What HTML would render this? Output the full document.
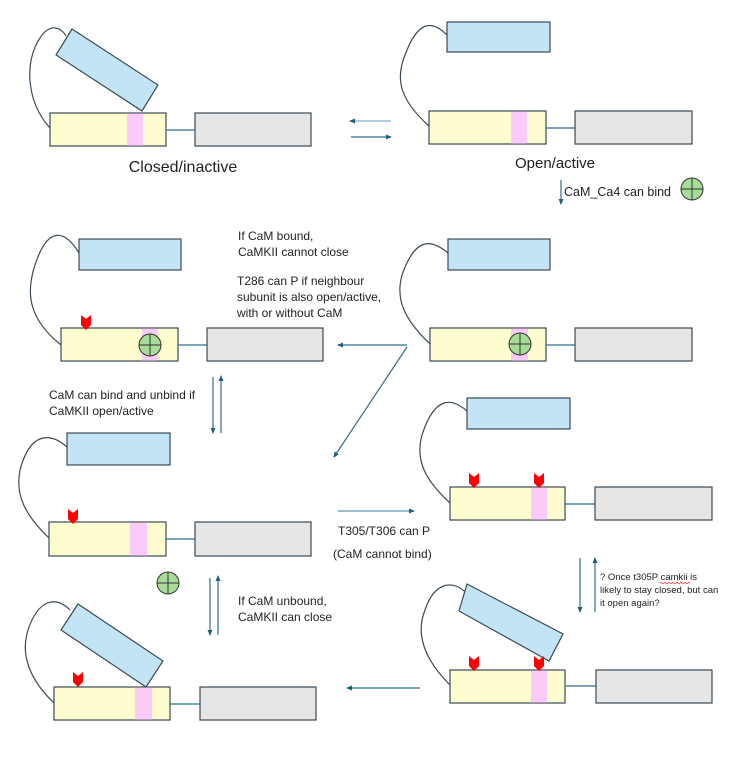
<!DOCTYPE html>
<html><head><meta charset="utf-8"><style>
html,body{margin:0;padding:0;background:#fff;}
svg{display:block;}
text{font-family:"Liberation Sans",sans-serif;fill:#222;}
</style></head><body>
<svg width="738" height="761" viewBox="0 0 738 761" xmlns="http://www.w3.org/2000/svg">
<defs>
<marker id="ah" markerWidth="6" markerHeight="6" refX="5" refY="3" orient="auto" markerUnits="userSpaceOnUse">
<path d="M0,0.5 L6,3 L0,5.5 Z" fill="#1f5f80"/></marker>
<g id="cam"><circle r="11" fill="#a9dc98" stroke="#333" stroke-width="1"/><line x1="-11" y1="0" x2="11" y2="0" stroke="#333"/><line x1="0" y1="-11" x2="0" y2="11" stroke="#333"/></g>
<polygon id="mk" points="-5,-8 0,-4 5,-8 5,2 0,7 -5,2" fill="#f00"/>
</defs>
<g stroke="#3b4a55" stroke-width="1.2">
<path d="M50,128 C25,100 25,60 40,38 C50,22 62,28 66,36" fill="none"/>
<polygon points="72,29 158,85 142,111 56,55" fill="#c3e4f4"/>
<rect x="50" y="113" width="116" height="33" fill="#fefdd0"/>
<rect x="127" y="113.6" width="16" height="32" fill="#fccaf8" stroke="none"/>
<line x1="166" y1="130" x2="195" y2="130" stroke="#2e6d8c"/>
<rect x="195" y="113" width="116" height="33" fill="#e6e6e6"/>
<path d="M430,127 C400,100 395,80 405,55 C418,20 432,20 447,35" fill="none"/>
<rect x="447" y="22" width="103" height="30" fill="#c3e4f4"/>
<rect x="429" y="111" width="117" height="33" fill="#fefdd0"/>
<rect x="511" y="111.6" width="16" height="32" fill="#fccaf8" stroke="none"/>
<line x1="546" y1="128" x2="575" y2="128" stroke="#2e6d8c"/>
<rect x="575" y="111" width="117" height="33" fill="#e6e6e6"/>
<path d="M61,345 C30,320 25,295 35,265 C48,225 65,230 79,253" fill="none"/>
<rect x="79" y="239" width="102" height="31" fill="#c3e4f4"/>
<rect x="61" y="328" width="117" height="33" fill="#fefdd0"/>
<rect x="142" y="328.6" width="16" height="32" fill="#fccaf8" stroke="none"/>
<line x1="178" y1="345" x2="207" y2="345" stroke="#2e6d8c"/>
<rect x="207" y="328" width="116" height="33" fill="#e6e6e6"/>
<path d="M430,344 C405,320 395,300 402,275 C415,238 430,238 448,253" fill="none"/>
<rect x="448" y="239" width="102" height="31" fill="#c3e4f4"/>
<rect x="430" y="328" width="116" height="33" fill="#fefdd0"/>
<rect x="511" y="328.6" width="17" height="32" fill="#fccaf8" stroke="none"/>
<line x1="546" y1="345" x2="575" y2="345" stroke="#2e6d8c"/>
<rect x="575" y="328" width="117" height="33" fill="#e6e6e6"/>
<path d="M49,538 C25,515 15,495 20,470 C30,432 50,432 67,447" fill="none"/>
<rect x="67" y="433" width="103" height="32" fill="#c3e4f4"/>
<rect x="49" y="522" width="117" height="34" fill="#fefdd0"/>
<rect x="130" y="522.6" width="17" height="33" fill="#fccaf8" stroke="none"/>
<line x1="166" y1="539" x2="195" y2="539" stroke="#2e6d8c"/>
<rect x="195" y="522" width="116" height="34" fill="#e6e6e6"/>
<path d="M450,503 C425,480 415,460 422,435 C435,395 452,398 467,411" fill="none"/>
<rect x="467" y="398" width="103" height="31" fill="#c3e4f4"/>
<rect x="450" y="487" width="115" height="33" fill="#fefdd0"/>
<rect x="531" y="487.6" width="16" height="32" fill="#fccaf8" stroke="none"/>
<line x1="565" y1="504" x2="595" y2="504" stroke="#2e6d8c"/>
<rect x="595" y="487" width="117" height="33" fill="#e6e6e6"/>
<path d="M54,703 C30,680 20,655 28,630 C38,600 55,595 70,610" fill="none"/>
<polygon points="78,604 163,661 146,687 61,630" fill="#c3e4f4"/>
<rect x="54" y="687" width="116" height="33" fill="#fefdd0"/>
<rect x="135" y="687.6" width="17" height="32" fill="#fccaf8" stroke="none"/>
<line x1="170" y1="704" x2="200" y2="704" stroke="#2e6d8c"/>
<rect x="200" y="687" width="116" height="33" fill="#e6e6e6"/>
<path d="M450,685 C425,660 415,635 425,610 C435,580 455,580 467,594" fill="none"/>
<polygon points="467,584 563,634 549,661 459,611" fill="#c3e4f4"/>
<rect x="450" y="670" width="115" height="33" fill="#fefdd0"/>
<rect x="531" y="670.6" width="16" height="32" fill="#fccaf8" stroke="none"/>
<line x1="565" y1="686" x2="596" y2="686" stroke="#2e6d8c"/>
<rect x="596" y="670" width="116" height="33" fill="#e6e6e6"/>
</g>
<use href="#cam" x="692" y="189"/>
<use href="#cam" x="150" y="345"/>
<use href="#cam" x="520" y="344"/>
<use href="#cam" x="168" y="583"/>
<use href="#mk" x="86" y="323"/>
<use href="#mk" x="73" y="517"/>
<use href="#mk" x="474" y="481"/>
<use href="#mk" x="539" y="481"/>
<use href="#mk" x="78" y="680"/>
<use href="#mk" x="474" y="664"/>
<use href="#mk" x="539" y="664"/>
<g stroke="#2e6d8c" stroke-width="1.2" fill="none" marker-end="url(#ah)">
<line x1="391" y1="121" x2="350" y2="121" stroke="#7fb0c8"/>
<line x1="351" y1="137" x2="391" y2="137"/>
<line x1="561" y1="180" x2="561" y2="204"/>
<line x1="407" y1="345" x2="338" y2="345"/>
<line x1="407" y1="347" x2="334" y2="457"/>
<line x1="213" y1="377" x2="213" y2="433"/>
<line x1="221" y1="433" x2="221" y2="376"/>
<line x1="338" y1="511" x2="414" y2="511" stroke="#5f98b4"/>
<line x1="580" y1="558" x2="580" y2="612"/>
<line x1="595" y1="612" x2="595" y2="558"/>
<line x1="210" y1="578" x2="210" y2="635"/>
<line x1="218" y1="635" x2="218" y2="576"/>
<line x1="420" y1="688" x2="347" y2="688"/>
</g>
<text x="183" y="172" font-size="16" text-anchor="middle">Closed/inactive</text>
<text x="555" y="168" font-size="15" text-anchor="middle">Open/active</text>
<text x="564" y="196" font-size="12.5">CaM_Ca4 can bind</text>
<text font-size="12"><tspan x="238" y="240">If CaM bound,</tspan><tspan x="238" y="256">CaMKII cannot close</tspan>
<tspan x="237" y="285">T286 can P if neighbour</tspan><tspan x="237" y="301">subunit is also open/active,</tspan><tspan x="237" y="317">with or without CaM</tspan></text>
<text font-size="12"><tspan x="49" y="399">CaM can bind and unbind if</tspan><tspan x="49" y="415">CaMKII open/active</tspan></text>
<text x="338" y="535" font-size="12">T305/T306 can P</text>
<text x="333" y="558" font-size="12">(CaM cannot bind)</text>
<text font-size="12"><tspan x="238" y="605">If CaM unbound,</tspan><tspan x="238" y="621">CaMKII can close</tspan></text>
<text font-size="9.5"><tspan x="600" y="580">? Once t305P camkii is</tspan><tspan x="600" y="593">likely to stay closed, but can</tspan><tspan x="600" y="606">it open again?</tspan></text>
<path d="M660,583 q1,-1.5 2,0 t2,0 t2,0 t2,0 t2,0 t2,0 t2,0 t2,0 t2,0 t2,0 t2,0 t2,0 t2,0 t2,0 t2,0" stroke="#e33" stroke-width="0.7" fill="none"/>
</svg>
</body></html>
